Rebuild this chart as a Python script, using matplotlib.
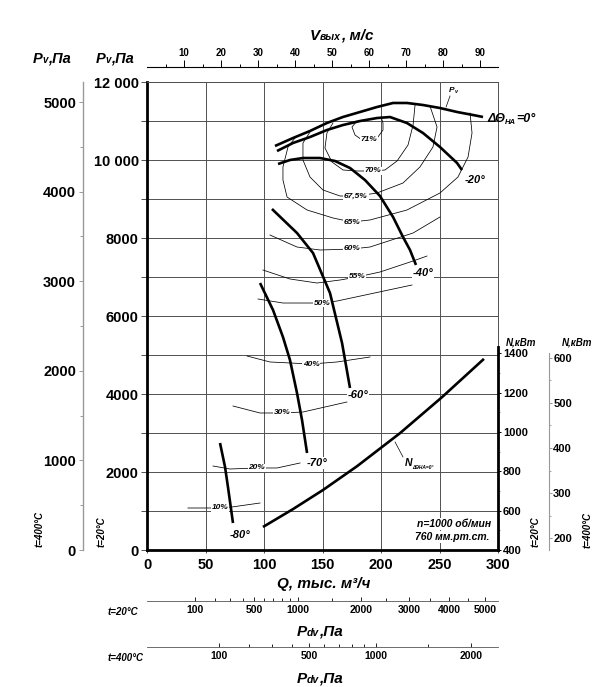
import numpy as np
import matplotlib
matplotlib.use('Agg')
import matplotlib.pyplot as plt
from matplotlib.ticker import MultipleLocator, FixedLocator, FuncFormatter

plt.rcParams['font.family'] = ['Liberation Sans', 'DejaVu Sans']
plt.rcParams['font.weight'] = 'bold'

W, H = 599, 687

# scale relations
K_V = 0.316              # outlet velocity, m/s per 1000 m3/h
RHO_20 = 1.2
T_RATIO = 293 / 673      # density 400°C / 20°C
RHO_400 = RHO_20 * T_RATIO
N_MIN, N_MAX = 400, 2780  # right N axis over the 0..12000 Pa range

# pressure curves, Q in 1000 m3/h, Pv in Pa
q_0 = [109.4, 124.8, 139.3, 153.8, 167.5, 182.1, 196.6, 210.3, 222.2, 235.9, 250.4, 265.0, 278.6, 287.2]
p_0 = [10359, 10564, 10744, 10949, 11103, 11231, 11359, 11462, 11462, 11410, 11333, 11231, 11154, 11103]
q_20 = [111.1, 124.8, 139.3, 153.8, 167.5, 182.1, 196.6, 207.7, 222.2, 235.9, 250.4, 265.0, 269.2]
p_20 = [10230, 10436, 10589, 10769, 10897, 11000, 11076, 11102, 10948, 10692, 10333, 9923, 9743]
q_40 = [112.0, 122.2, 133.3, 147.9, 160.7, 173.5, 186.3, 199.1, 210.3, 218.8, 224.8, 229.9]
p_40 = [9897, 10000, 10051, 10051, 9974, 9795, 9487, 9077, 8538, 8026, 7692, 7308]
q_60 = [106.8, 128.2, 141.9, 156.4, 166.7, 173.5]
p_60 = [8744, 8128, 7615, 6590, 5308, 4154]
q_70 = [96.6, 107.7, 116.2, 122.2, 128.2, 132.5, 136.8]
p_70 = [6846, 6154, 5462, 4872, 4026, 3333, 2487]
q_80 = [62.4, 66.7, 69.2, 73.5]
p_80 = [2744, 2128, 1615, 692]

# power at 0°
q_n = [99.1, 124.8, 150.4, 179.5, 216.2, 252.1, 288.0]
n_kw = [517, 608, 705, 826, 994, 1177, 1372]

# efficiency lines
q_e71 = [179.5, 175.2, 177.8, 183.8, 189.7, 197.4, 201.7, 201.7, 200.0]
p_e71 = [11000, 10846, 10641, 10513, 10487, 10590, 10769, 10949, 11103]
q_e70 = [159.0, 153.8, 152.1, 158.1, 167.5, 179.5, 193.2, 203.4, 213.7, 223.1, 227.4, 229.1]
p_e70 = [10950, 10692, 10308, 9949, 9744, 9718, 9718, 9744, 9974, 10385, 10897, 11410]
q_e675 = [140.2, 133.3, 133.3, 139.3, 150.4, 165.0, 179.5, 196.6, 218.8, 233.3, 244.4, 247.9, 241.9]
p_e675 = [10760, 10436, 10000, 9564, 9231, 9077, 9077, 9154, 9410, 9821, 10333, 10846, 11380]
q_e65 = [127.4, 120.5, 116.2, 116.2, 119.7, 136.8, 159.0, 175.2, 190.6, 222.2, 250.4, 265.8, 274.4, 277.8, 276.1]
p_e65 = [10600, 10333, 9821, 9487, 9051, 8718, 8513, 8410, 8462, 8718, 9154, 9564, 10077, 10692, 11205]
q_e60 = [105.1, 128.2, 147.9, 175.2, 190.6, 227.4, 250.4]
p_e60 = [8077, 7769, 7692, 7718, 7769, 8128, 8538]
q_e55 = [99.1, 122.2, 145.3, 165.0, 179.5, 199.1, 227.4, 239.3]
p_e55 = [7179, 6949, 6846, 6923, 7000, 7128, 7410, 7538]
q_e50 = [94.9, 116.2, 149.6, 162.4, 226.5]
p_e50 = [6436, 6333, 6333, 6384, 6795]
q_e40 = [85.5, 105.1, 140.2, 162.4, 190.6]
p_e40 = [4974, 4821, 4769, 4821, 4949]
q_e30 = [73.5, 96.6, 115.4, 133.3, 170.9]
p_e30 = [3692, 3513, 3513, 3538, 3795]
q_e20 = [56.4, 70.9, 94.0, 111.1, 130.8]
p_e20 = [2154, 2077, 2103, 2103, 2231]
q_e10 = [35.0, 55.6, 62.4, 72.6, 96.6]
p_e10 = [1077, 1077, 1077, 1103, 1205]

eta_labels = ['71%', '70%', '67,5%', '65%', '60%', '55%', '50%', '40%', '30%', '20%', '10%']
eta_label_q = [189.7, 193.2, 178.6, 175.2, 175.2, 179.5, 149.6, 140.2, 115.4, 94.0, 62.4]
eta_label_p = [10513, 9718, 9077, 8410, 7718, 7000, 6333, 4769, 3513, 2103, 1077]

angle_labels = ['-20°', '-40°', '-60°', '-70°', '-80°']
angle_label_q = [280.3, 235.9, 180.3, 145.3, 79.5]
angle_label_p = [9487, 7103, 3974, 2231, 385]

q_ticks = [0, 50, 100, 150, 200, 250, 300]
v_ticks = [10, 20, 30, 40, 50, 60, 70, 80, 90]
v_minor = [5, 15, 25, 35, 45, 55, 65, 75, 85]
pdv20_ticks = [100, 500, 1000, 2000, 3000, 4000, 5000]
pdv20_minor = [200, 300, 400, 600, 700, 800, 900, 1500, 2500, 3500, 4500]
pdv400_ticks = [100, 500, 1000, 2000]
pdv400_minor = [200, 300, 400, 600, 700, 800, 900, 1500]
pv400_ticks = [0, 1000, 2000, 3000, 4000, 5000]
n20_ticks = [400, 600, 800, 1000, 1200, 1400]
n400_ticks = [200, 300, 400, 500, 600]

fig = plt.figure(figsize=(W / 100, H / 100), dpi=100)
ax = fig.add_axes([147 / W, 137 / H, 351 / W, 468 / H])
ax.set_xlim(0, 300)
ax.set_ylim(0, 12000)

grid_c = '#505050'
ax.set_axisbelow(True)
ax.xaxis.set_major_locator(FixedLocator(q_ticks))
ax.yaxis.set_major_locator(MultipleLocator(1000))
ax.grid(True, color=grid_c, lw=0.7)


def pv_fmt(v, pos):
    v = int(round(v))
    if v % 2000:
        return ''
    return f'{v:,}'.replace(',', ' ') if v >= 10000 else str(v)


ax.yaxis.set_major_formatter(FuncFormatter(pv_fmt))
ax.tick_params(axis='y', length=4, width=0.7, color=grid_c, pad=2, labelsize=10.5)
ax.tick_params(axis='x', length=2, width=0.7, color=grid_c, pad=3.5, labelsize=10.5)
for s in ['left', 'bottom']:
    ax.spines[s].set_linewidth(2.0)
for s in ['top', 'right']:
    ax.spines[s].set_linewidth(0.7)
    ax.spines[s].set_color(grid_c)

# top: outlet velocity
sec_v = ax.secondary_xaxis(1 + 15 / 468, functions=(lambda q: q * K_V, lambda v: v / K_V))
sec_v.set_xticks(v_ticks)
sec_v.xaxis.set_minor_locator(FixedLocator(v_minor))
sec_v.tick_params(which='major', length=5, width=0.7, labelsize=7, pad=1.5)
sec_v.tick_params(which='minor', length=2.5, width=0.7)
for s in sec_v.spines.values():
    s.set_linewidth(0.8)


# bottom: dynamic pressure scales
def pdv_axis(loc, rho, ticks, minor):
    fwd = lambda q: rho / 2 * (K_V * np.asarray(q, dtype=float)) ** 2
    inv = lambda p: np.sqrt(2 * np.clip(np.asarray(p, dtype=float), 0, None) / rho) / K_V
    sec = ax.secondary_xaxis(loc, functions=(fwd, inv))
    sec.set_xticks(ticks, labels=[str(t) for t in ticks])
    sec.xaxis.set_minor_locator(FixedLocator(minor))
    sec.tick_params(which='major', direction='in', length=3, width=0.6, labelsize=7.5, pad=3)
    sec.tick_params(which='minor', direction='in', length=2, width=0.6)
    for s in sec.spines.values():
        s.set_linewidth(0.6)
        s.set_color('#555555')
    return sec


pdv_axis(-51 / 468, RHO_20, pdv20_ticks, pdv20_minor)
pdv_axis(-97 / 468, RHO_400, pdv400_ticks, pdv400_minor)

# left: Pv at 400°C
sec_p = ax.secondary_yaxis(-64 / 351, functions=(lambda p: p * T_RATIO, lambda p: p / T_RATIO))
sec_p.set_yticks(pv400_ticks, labels=[str(t) for t in pv400_ticks])
sec_p.yaxis.set_minor_locator(MultipleLocator(500))
sec_p.tick_params(which='major', length=3, width=0.7, color='#999999', labelsize=10.5, pad=2)
sec_p.tick_params(which='minor', length=2, width=0.7, color='#999999')
sec_p.spines['right'].set_visible(False)
sec_p.spines['left'].set_color('#999999')
sec_p.spines['left'].set_linewidth(1.0)

# right: power
ax_n = ax.twinx()
ax_n.set_ylim(N_MIN, N_MAX)
ax_n.set_yticks(n20_ticks, labels=[str(t) for t in n20_ticks])
ax_n.yaxis.set_minor_locator(FixedLocator([500, 700, 900, 1100, 1300]))
ax_n.tick_params(which='major', length=2.5, width=0.7, labelsize=8, pad=1)
ax_n.tick_params(which='minor', length=1.5, width=0.6, color='#777777')
for s in ['left', 'top', 'bottom']:
    ax_n.spines[s].set_visible(False)
ax_n.spines['right'].set_linewidth(2.0)
ax_n.spines['right'].set_bounds(N_MIN, 1430)

sec_n = ax_n.secondary_yaxis(402 / 351, functions=(lambda n: n * T_RATIO, lambda n: n / T_RATIO))
sec_n.set_yticks(n400_ticks, labels=[str(t) for t in n400_ticks])
sec_n.yaxis.set_minor_locator(FixedLocator([250, 350, 450, 550]))
sec_n.tick_params(which='major', length=2, width=0.7, color='#999999', labelsize=8, pad=1)
sec_n.tick_params(which='minor', length=1.5, width=0.6, color='#999999')
sec_n.spines['left'].set_visible(False)
sec_n.spines['right'].set_color('#999999')
sec_n.spines['right'].set_bounds(N_MIN * T_RATIO, 1400 * T_RATIO)

# efficiency lines
eta_lines = [(q_e71, p_e71), (q_e70, p_e70), (q_e675, p_e675), (q_e65, p_e65),
             (q_e60, p_e60), (q_e55, p_e55), (q_e50, p_e50), (q_e40, p_e40),
             (q_e30, p_e30), (q_e20, p_e20), (q_e10, p_e10)]
for q, p in eta_lines:
    ax.plot(q, p, color='black', lw=0.55, zorder=3)
for s, q, p in zip(eta_labels, eta_label_q, eta_label_p):
    ax.text(q, p, s, fontsize=6, style='italic', ha='center', va='center', zorder=4,
            bbox=dict(boxstyle='square,pad=0.08', fc='white', ec='none'))

# pressure curves
for q, p in [(q_0, p_0), (q_20, p_20), (q_40, p_40), (q_60, p_60), (q_70, p_70), (q_80, p_80)]:
    ax.plot(q, p, color='black', lw=1.9, zorder=5, solid_capstyle='butt', solid_joinstyle='round')
ax_n.plot(q_n, n_kw, color='black', lw=1.9, zorder=5, solid_capstyle='butt', solid_joinstyle='round')

for s, q, p in zip(angle_labels, angle_label_q, angle_label_p):
    ax.text(q, p, s, fontsize=8, style='italic', ha='center', va='center', zorder=6,
            bbox=dict(boxstyle='square,pad=0.05', fc='white', ec='none'))

bi = dict(style='italic', weight='bold')


def chain(t, parts):
    # append pieces of text to the right of artist t
    for txt, fs, dy in parts:
        t = ax.annotate(txt, xy=(1, dy), xycoords=t, fontsize=fs, va='bottom', ha='left',
                        annotation_clip=False, zorder=6, **bi)
    return t


# curve captions
t1 = ax.text(290.6, 10974, 'ΔΘ', fontsize=9, va='baseline', zorder=6, **bi)
t2 = ax.annotate('НА', xy=(1, -0.12), xycoords=t1, fontsize=5.5, va='bottom', ha='left',
                 annotation_clip=False, **bi)
ax.annotate('=0°', xy=(1, 0), xycoords=(t2, t1), fontsize=9, va='bottom', ha='left',
            annotation_clip=False, **bi)

tp = ax.text(258.1, 11744, 'P', fontsize=6, va='baseline', zorder=6, **bi)
chain(tp, [('v', 4, 0.05)])
ax.plot([259.0, 255.6], [11641, 11359], color='black', lw=0.5)

tn = ax.text(220.5, 2150, 'N', fontsize=7.5, va='baseline', zorder=6, **bi)
chain(tn, [('ΔΘНА=0°', 3.5, -0.15)])
ax.plot([212.0, 218.8], [2769, 2385], color='black', lw=0.5)

ax.text(294.5, 667, 'n=1000 об/мин', fontsize=7.5, ha='right', va='center', zorder=6,
        bbox=dict(boxstyle='square,pad=0.05', fc='white', ec='none'), **bi)
ax.text(293.0, 333, '760 мм.рт.ст.', fontsize=7.5, ha='right', va='center', zorder=6,
        bbox=dict(boxstyle='square,pad=0.05', fc='white', ec='none'), **bi)


# headers and side captions, figure pixels
def fig_rich(x, y, parts):
    txt, fs, _ = parts[0]
    t = fig.text(x / W, 1 - y / H, txt, fontsize=fs, va='baseline', ha='left', **bi)
    return chain(t, parts[1:])


fig_rich(33, 63, [('P', 10.5, 0), ('v', 7, 0.05), (',Па', 10.5, 0)])
fig_rich(96, 63, [('P', 10.5, 0), ('v', 7, 0.05), (',Па', 10.5, 0)])
fig_rich(310, 40, [('V', 11, 0), ('вых', 7.5, 0.05), (', м/с', 11, 0)])
fig_rich(297, 636, [('P', 11, 0), ('dv', 7.5, 0.05), (',Па', 11, 0)])
fig_rich(297, 683, [('P', 11, 0), ('dv', 7.5, 0.05), (',Па', 11, 0)])
fig.text(277 / W, 1 - 588 / H, 'Q, тыс. м³/ч', fontsize=11, va='baseline', ha='left', **bi)

for x, y, s in [(40, 529, 't=400°C'), (102, 532, 't=20°C'), (536, 532, 't=20°C'), (588, 530, 't=400°C')]:
    fig.text(x / W, 1 - y / H, s, fontsize=7, rotation=90, ha='center', va='center', **bi)
fig.text(108 / W, 1 - 612 / H, 't=20°C', fontsize=7, ha='left', va='center', **bi)
fig.text(108 / W, 1 - 658 / H, 't=400°C', fontsize=7, ha='left', va='center', **bi)
fig.text(506 / W, 1 - 342 / H, 'N,кВт', fontsize=7, ha='left', va='center', **bi)
fig.text(562 / W, 1 - 342 / H, 'N,кВт', fontsize=7, ha='left', va='center', **bi)

fig.savefig('out.png', dpi=100)
